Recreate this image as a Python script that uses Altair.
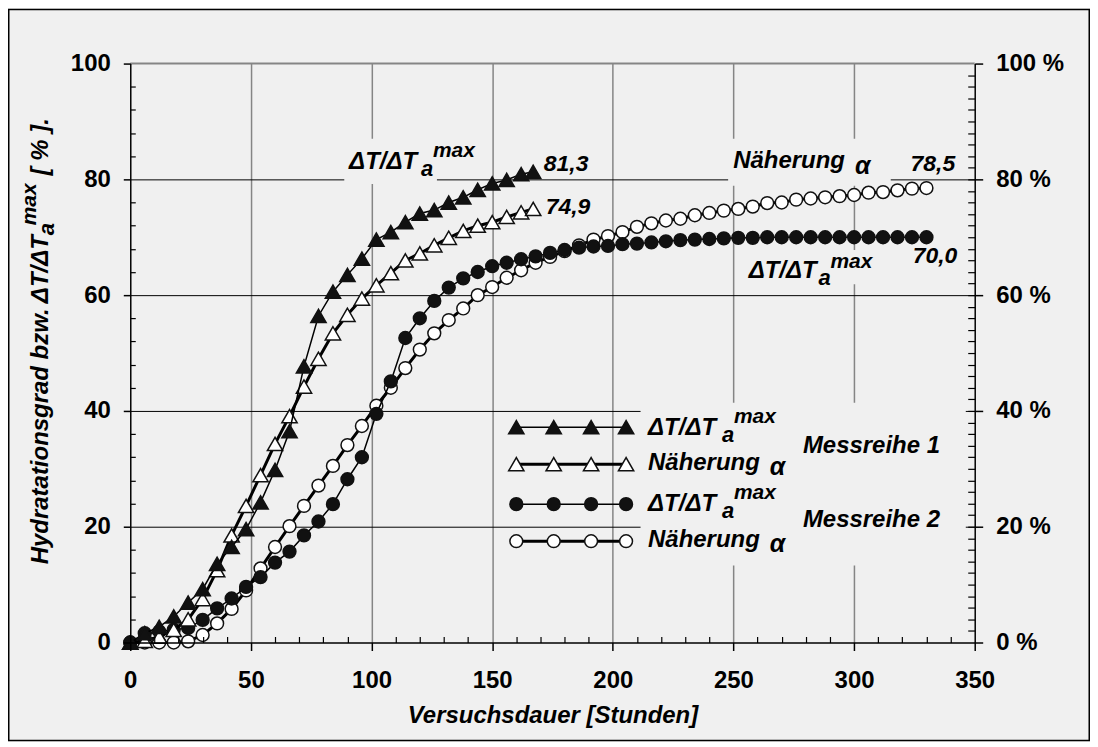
import altair as alt
import pandas as pd

FONT = "Liberation Sans"
BG = "#f0f0f0"

# ---------------- data ----------------
hours_m1 = [0, 6, 12, 18, 24, 30, 36, 42, 48, 54, 60, 66, 72, 78, 84, 90, 96, 102,
            108, 114, 120, 126, 132, 138, 144, 150, 156, 162, 167]
m1_dT = [0, 1.6, 2.7, 4.5, 6.9, 9.2, 13.6, 16.5, 19.6, 24.2, 29.8, 36.5, 47.7, 56.4,
         60.6, 63.5, 66.3, 69.6, 70.9, 72.6, 74.1, 74.7, 76.0, 76.9, 78.2, 79.3, 79.9,
         80.9, 81.3]
m1_alpha = [0, 0.3, 1.0, 2.2, 4.0, 7.5, 12.5, 18.5, 23.6, 28.9, 34.3, 39.1, 44.2, 49.0,
            53.4, 56.6, 59.4, 61.7, 63.8, 66.0, 67.2, 68.6, 69.9, 71.1, 72.0, 72.6, 73.5,
            74.3, 74.9]

hours_m2 = [0, 6, 12, 18, 24, 30, 36, 42, 48, 54, 60, 66, 72, 78, 84, 90, 96, 102,
            108, 114, 120, 126, 132, 138, 144, 150, 156, 162, 168, 174, 180, 186, 192,
            198, 204, 210, 216, 222, 228, 234, 240, 246, 252, 258, 264, 270, 276, 282,
            288, 294, 300, 306, 312, 318, 324, 330]
m2_dT = [0, 1.6, 1.9, 2.2, 2.5, 3.9, 5.9, 7.6, 9.6, 11.3,
         13.8, 15.7, 18.5, 20.9, 23.9, 28.2, 32.0, 39.5, 45.1, 52.6,
         56.0, 59.0, 61.3, 62.9, 64.0, 65.0, 65.6, 66.2, 66.7, 67.3,
         67.8, 68.2, 68.4, 68.5, 68.8, 68.9, 69.1, 69.3, 69.5, 69.6,
         69.7, 69.8, 69.9, 69.9, 70.0, 70.0, 70.0, 70.0, 70.0, 70.0,
         70.0, 70.0, 70.0, 70.0, 70.0, 70.0]
m2_alpha = [0, 0, 0, 0, 0.2, 1.3, 3.3, 5.8, 9.0, 12.8,
            16.5, 20.1, 23.6, 27.1, 30.5, 34.1, 37.4, 40.9, 44.0, 47.4,
            50.6, 53.4, 55.7, 57.7, 60.0, 61.4, 63.0, 64.3, 65.6, 66.6,
            67.6, 68.6, 69.6, 70.2, 70.9, 71.8, 72.4, 72.9, 73.2, 73.8,
            74.2, 74.6, 74.9, 75.3, 75.9, 76.0, 76.5, 76.7, 76.9, 77.1,
            77.3, 77.7, 77.8, 78.1, 78.4, 78.5]

x_major = [0, 50, 100, 150, 200, 250, 300, 350]
x_minor = [10, 20, 30, 40, 60, 70, 80, 90, 110, 120, 130, 140, 160, 170, 180, 190,
           210, 220, 230, 240, 260, 270, 280, 290, 310, 320, 330, 340]
y_major = [0, 20, 40, 60, 80, 100]
y_grid = [20, 40, 60, 80]
y_minor_left = [4, 8, 12, 16, 24, 28, 32, 36, 44, 48, 52, 56, 64, 68, 72, 76, 84, 88, 92, 96]
y_minor_right = [2, 4, 6, 8, 10, 12, 14, 16, 18, 20, 22, 24, 26, 28, 30, 32, 34, 36, 38,
                 40, 42, 44, 46, 48, 50, 52, 54, 56, 58, 60, 62, 64, 66, 68, 70, 72, 74,
                 76, 78, 80, 82, 84, 86, 88, 90, 92, 94, 96, 98]

# legend sample positions (data coordinates)
legend_x = [160, 175.5, 191, 205.5]
legend_rows = [37.2, 30.8, 23.9, 17.5]

W, H = 846, 580
PAD_L, PAD_T, PAD_R, PAD_B = 122.5, 55, 115.5, 99

xs = alt.Scale(domain=[0, 350], nice=False, zero=False)
ys = alt.Scale(domain=[0, 100], nice=False, zero=False)
anchor = pd.DataFrame({"x": [0], "y": [0]})


def ax_layer(xaxis, yaxis):
    return alt.Chart(anchor).mark_point(opacity=0).encode(
        x=alt.X("x:Q", scale=xs, axis=xaxis),
        y=alt.Y("y:Q", scale=ys, axis=yaxis),
    )


axis_grid = ax_layer(
    alt.Axis(orient="bottom", values=[50, 100, 150, 200, 250, 300], grid=True,
             gridColor="#858585", gridWidth=1.5, gridOpacity=1, ticks=False, labels=False,
             domain=False, title=None, zindex=0),
    alt.Axis(orient="left", values=y_grid, grid=True, gridColor="#000000", gridWidth=1,
             gridOpacity=1, ticks=False, labels=False, domain=False, title=None, zindex=0),
)
axis_main = ax_layer(
    alt.Axis(orient="bottom", values=x_major, tickSize=8, tickWidth=1.5, domainWidth=1.5,
             labelPadding=18, labelFlush=False, grid=False,
             title="Versuchsdauer [Stunden]", titleFontSize=24, titleFontWeight="bold",
             titleFontStyle="italic", titlePadding=11, zindex=1),
    alt.Axis(orient="left", values=y_major, tickSize=7, tickWidth=1.5, domainWidth=1.5,
             labelPadding=13, labelFlush=False, grid=False, title=None, zindex=1),
)
axis_minor = ax_layer(
    alt.Axis(orient="top", offset=-H, values=x_minor, tickSize=6, tickWidth=1.2,
             labels=False, domain=False, grid=False, title=None, zindex=1),
    alt.Axis(orient="right", offset=-W, values=y_minor_left, tickSize=5, tickWidth=1.2,
             labels=False, domain=False, grid=False, title=None, zindex=1),
)
axis_right = ax_layer(
    None,
    alt.Axis(orient="right", values=y_major, tickSize=8, tickWidth=1.5, domainWidth=1.5,
             labelPadding=13, labelFlush=False, labelExpr="datum.value + ' %'", grid=False,
             title=None, zindex=1),
)
axis_right_minor = ax_layer(
    None,
    alt.Axis(orient="left", offset=-W, values=y_minor_right, tickSize=7, tickWidth=1.2,
             labels=False, domain=False, grid=False, title=None, zindex=1),
)

top_line = alt.Chart(pd.DataFrame({"y": [100]})).mark_rule(color="#858585", strokeWidth=2).encode(
    y=alt.Y("y:Q", scale=ys, axis=None))


def box(x1, x2, y1, y2):
    d = pd.DataFrame({"x1": [x1], "x2": [x2], "y1": [y1], "y2": [y2]})
    return alt.Chart(d).mark_rect(color=BG).encode(
        x=alt.X("x1:Q", scale=xs, axis=None), x2="x2:Q",
        y=alt.Y("y1:Q", scale=ys, axis=None), y2="y2:Q")


boxes = [
    box(88.7, 127.1, 79.2, 87.0),
    box(247.8, 315.2, 78.9, 87.0),
    box(254.0, 310.0, 61.9, 67.8),
    box(211.5, 346.3, 13.3, 41.4),
]


def series(hours, vals, shape, filled, lw):
    d = pd.DataFrame({"h": hours, "v": vals})
    enc = dict(x=alt.X("h:Q", scale=xs, axis=None), y=alt.Y("v:Q", scale=ys, axis=None))
    line = alt.Chart(d).mark_line(color="black", strokeWidth=lw).encode(**enc)
    size = 235 if shape == "triangle-up" else 165
    pts = alt.Chart(d).mark_point(
        shape=shape, filled=True, size=size, opacity=1,
        fill="#111111" if filled else "white", stroke="#111111", strokeWidth=1.5,
    ).encode(**enc)
    return [line, pts]


data_layers = (
    series(hours_m2, m2_alpha, "circle", False, 3)
    + series(hours_m2, m2_dT, "circle", True, 1.5)
    + series(hours_m1, m1_alpha, "triangle-up", False, 3)
    + series(hours_m1, m1_dT, "triangle-up", True, 1.5)
)

legend_styles = [("triangle-up", True, 1.5), ("triangle-up", False, 3),
                 ("circle", True, 1.5), ("circle", False, 3)]
legend_layers = []
for yrow, (shape, filled, lw) in zip(legend_rows, legend_styles):
    legend_layers += series(legend_x, [yrow] * len(legend_x), shape, filled, lw)


def label(x, y, text, size=24, dx=0, dy=0):
    d = pd.DataFrame({"x": [x], "y": [y], "t": [text]})
    return alt.Chart(d).mark_text(
        font=FONT, fontSize=size, fontWeight="bold", fontStyle="italic",
        align="left", baseline="alphabetic", dx=dx, dy=dy, color="black",
    ).encode(x=alt.X("x:Q", scale=xs, axis=None), y=alt.Y("y:Q", scale=ys, axis=None), text="t:N")


def delta_label(x, y, a_dx=72, max_dx=84, a_dy=7, max_dy=-12, base=0):
    return [label(x, y, "ΔT/ΔT", 24, 0, base), label(x, y, "a", 22, a_dx, base + a_dy),
            label(x, y, "max", 21, max_dx, base + max_dy)]


def alpha_label(x, y, a_dx=122, a_dy=6, base=0):
    return [label(x, y, "Näherung", 24, 0, base), label(x, y, "α", 25, a_dx, base + a_dy)]


text_layers = []
text_layers += delta_label(90.7, 81.8)
text_layers += [label(171.4, 81.4, "81,3", 23), label(172.2, 74.1, "74,9", 23)]
text_layers += alpha_label(249.9, 82.0)
text_layers += [label(323.4, 81.5, "78,5", 23)]
text_layers += delta_label(256.3, 62.9, 70, 82, 7, -10)
text_layers += [label(324.3, 65.6, "70,0", 23)]
# legend texts
text_layers += delta_label(214.6, legend_rows[0], 74, 86, base=8)
text_layers += alpha_label(214.6, legend_rows[1], 122, 5, base=6)
text_layers += delta_label(214.6, legend_rows[2], 74, 86, base=7)
text_layers += alpha_label(214.6, legend_rows[3], 122, 5, base=6)
text_layers += [label(278.8, 32.8, "Messreihe 1", 24), label(278.8, 20.0, "Messreihe 2", 24)]


# left (rotated) axis title, assembled from pieces
def vtext(xp, yp, text, size):
    return alt.Chart(anchor).mark_text(
        font=FONT, fontSize=size, fontWeight="bold", fontStyle="italic",
        align="left", baseline="alphabetic", angle=270, color="black",
    ).encode(x=alt.value(xp), y=alt.value(yp), text=alt.value(text))


ytitle = [
    vtext(-82.5, 501.6, "Hydratationsgrad bzw.", 24),
    vtext(-82.5, 240, "ΔT/ΔT", 24),
    vtext(-76.5, 172, "a", 22),
    vtext(-94.5, 162, "max", 21),
    vtext(-82.5, 112, "[ % ].", 24),
]

TOT_W = PAD_L + W + PAD_R
TOT_H = PAD_T + H + PAD_B
frame = alt.Chart(anchor).mark_rect(fillOpacity=0, stroke="black", strokeWidth=1.5).encode(
    x=alt.value(-PAD_L + 0.75), x2=alt.value(TOT_W - PAD_L - 0.75),
    y=alt.value(-PAD_T + 0.75), y2=alt.value(TOT_H - PAD_T - 0.75))

chart = alt.layer(
    axis_grid, top_line, *boxes, *data_layers, *legend_layers, *text_layers, *ytitle,
    axis_main, axis_minor, axis_right, axis_right_minor, frame,
).resolve_axis(x="independent", y="independent").properties(
    width=W, height=H,
    autosize=alt.AutoSizeParams(type="none"),
    padding={"left": PAD_L, "top": PAD_T, "right": PAD_R, "bottom": PAD_B},
).configure(background=BG).configure_view(stroke=None).configure_axis(
    labelFont=FONT, labelFontSize=24, labelFontWeight="bold", labelColor="black",
    tickColor="black", domainColor="black", titleFont=FONT, titleColor="black",
)

chart.save("out.html", embed_options={"renderer": "svg", "actions": False})
